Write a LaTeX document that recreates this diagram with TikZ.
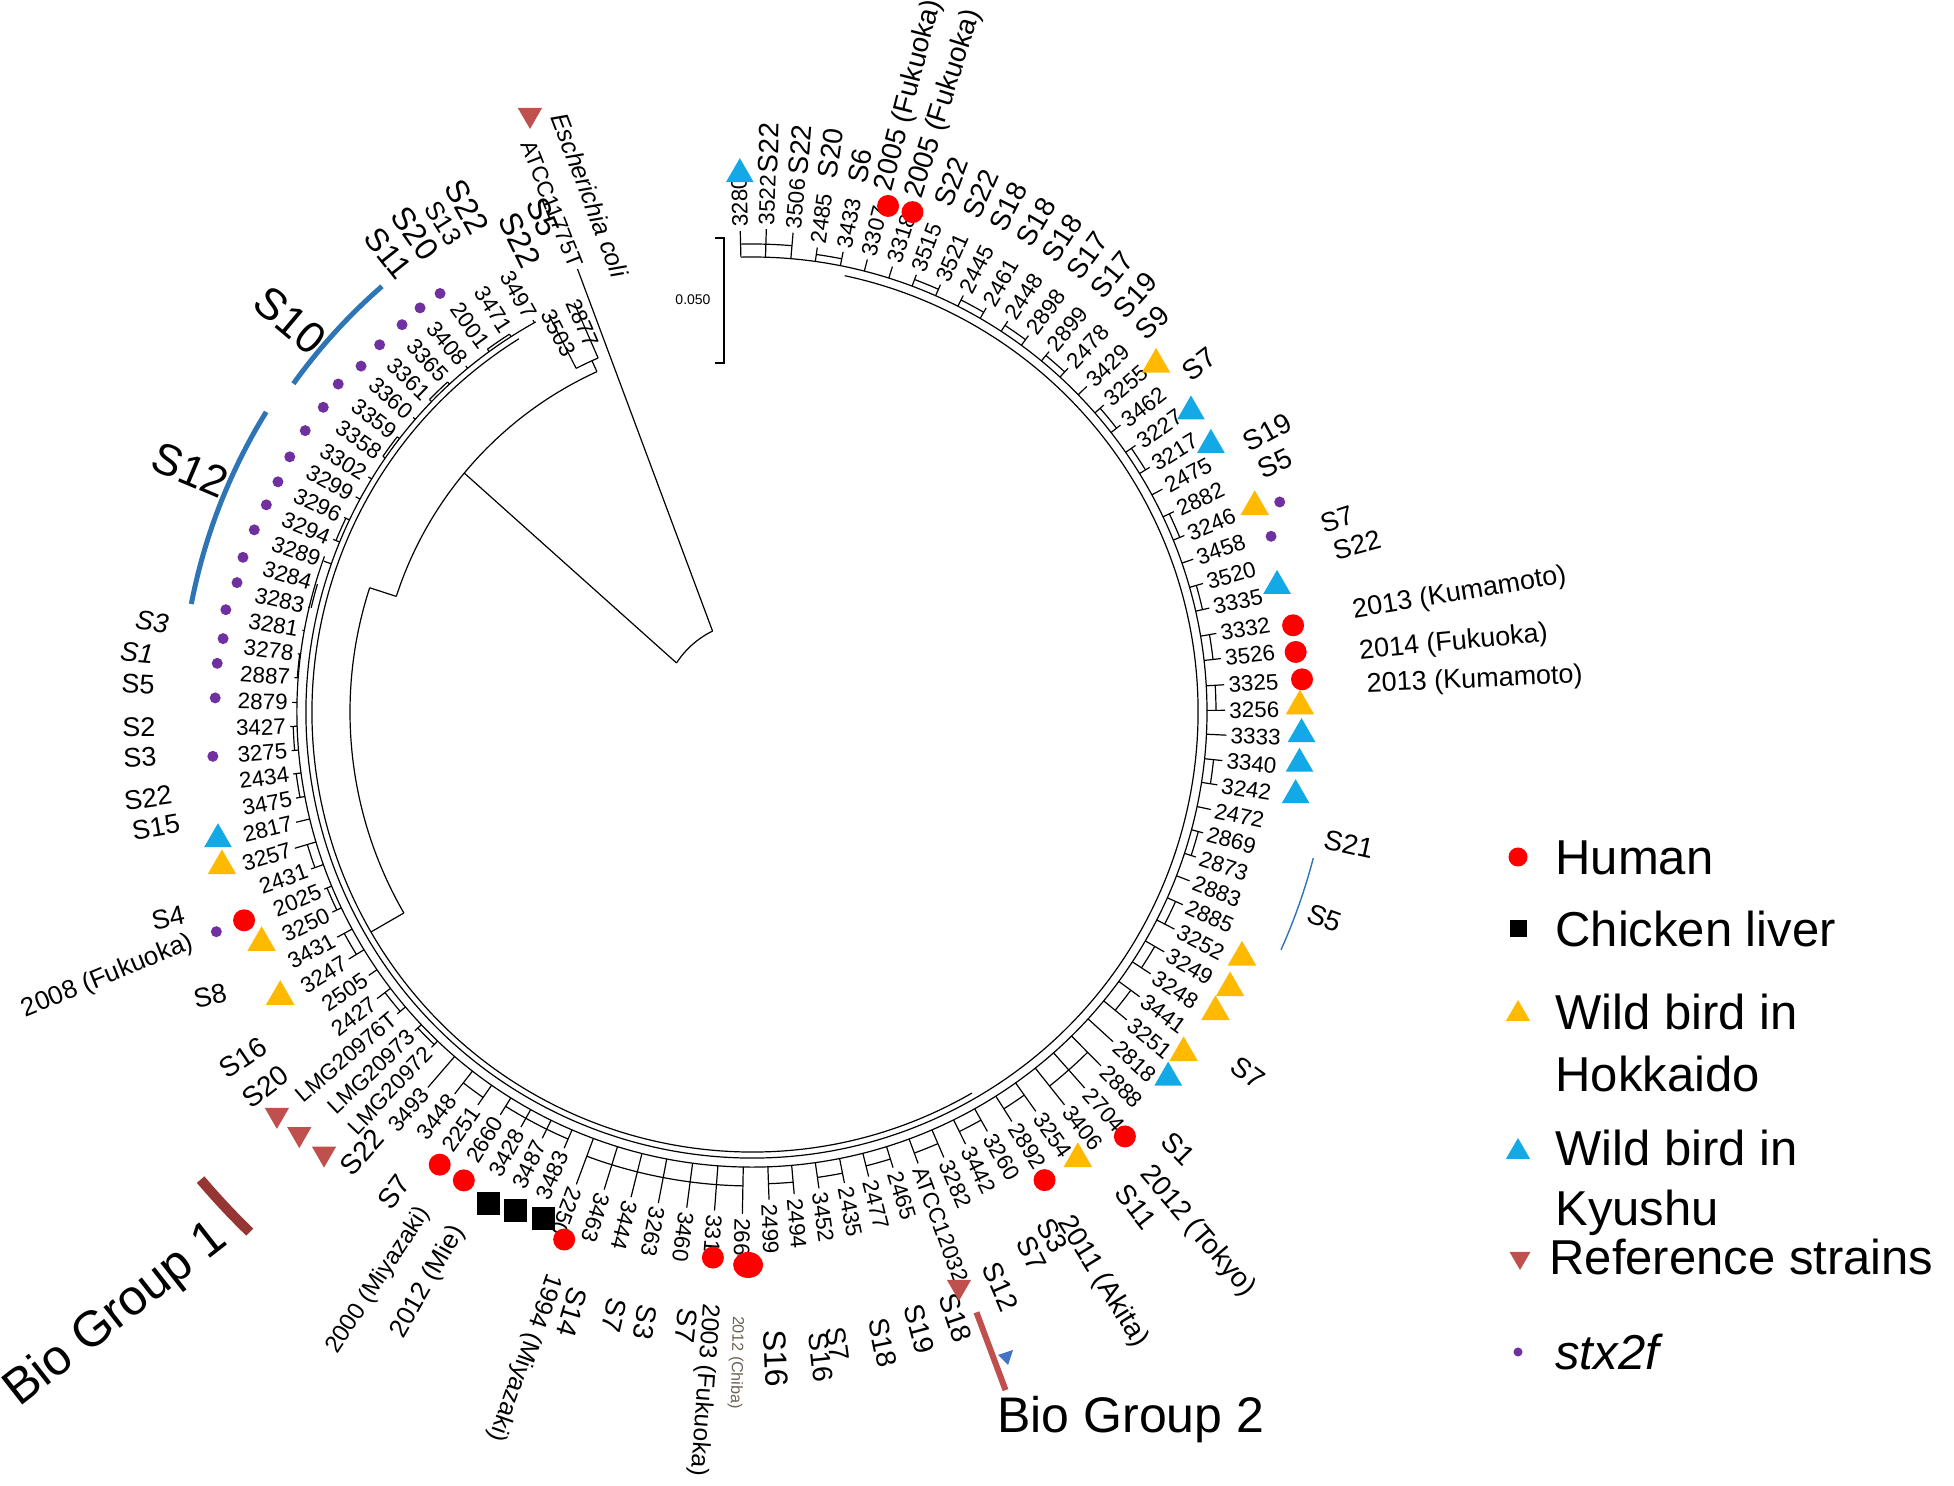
\documentclass[tikz,border=0pt]{standalone}
\usepackage{fontspec}
\setmainfont{Liberation Sans}
\usetikzlibrary{calc,shapes.geometric}
\definecolor{hred}{HTML}{FF0000}
\definecolor{borange}{HTML}{FFBA00}
\definecolor{bblue}{HTML}{12A9E6}
\definecolor{refred}{HTML}{C0504D}
\definecolor{ppurple}{HTML}{7030A0}
\definecolor{lineblue}{HTML}{2E75B6}
\definecolor{bgone}{HTML}{963634}
\definecolor{smallblue}{HTML}{4472C4}
\definecolor{chiba}{HTML}{6D6150}
\begin{document}
\begin{tikzpicture}[x=0.5pt,y=0.5pt,
  br/.style={line width=0.6pt, black},
  leaf/.style={font=\fontsize{11.2}{12}\selectfont, inner sep=0.5pt},
  sero/.style={font=\fontsize{14}{15}\selectfont, inner sep=0.5pt},
  seroR/.style={font=\fontsize{13.5}{14}\selectfont, inner sep=0.5pt},
  big/.style={font=\fontsize{22}{24}\selectfont, inner sep=0pt},
  mid/.style={font=\fontsize{16}{17}\selectfont, inner sep=0pt},
  hum/.style={circle, fill=hred, minimum size=11pt, inner sep=0pt},
  chk/.style={rectangle, fill=black, minimum size=11.5pt, inner sep=0pt},
  hok/.style={regular polygon, regular polygon sides=3, fill=borange, minimum size=16.5pt, inner sep=0pt},
  kyu/.style={regular polygon, regular polygon sides=3, fill=bblue, minimum size=16pt, inner sep=0pt},
  refs/.style={regular polygon, regular polygon sides=3, shape border rotate=180, fill=refred, minimum size=14pt, inner sep=0pt},
  stx/.style={circle, fill=ppurple, minimum size=5.5pt, inner sep=0pt},
  legtext/.style={font=\fontsize{24.5}{26}\selectfont, anchor=base west, inner sep=0pt},
  biog/.style={font=\fontsize{25}{27}\selectfont, anchor=base west, inner sep=0pt}
]
\fill[white] (0,0) rectangle (1954,1486);
\useasboundingbox (0,0) rectangle (1954,1486);
\coordinate (C) at (752,774);

% ---------- backbone rings ----------
\draw[br] ($(C)+(-200:455)$) arc[start angle=-200, end angle=91.4, radius=455];
\draw[br] ($(C)+(-241:446)$) arc[start angle=-241, end angle=78, radius=446];
\draw[br] ($(C)+(-238:440)$) arc[start angle=-238, end angle=-60, radius=440];

% ---------- inner structure ----------
\draw[br] ($(C)+(116:90)$) arc[start angle=116, end angle=147, radius=90];
\draw[br] ($(C)+(116:90)$) -- ($(C)+(111.5:476)$);
\draw[br] ($(C)+(147:90)$) -- ($(C)+(140.3:374)$);
\draw[br] ($(C)+(114.5:374)$) arc[start angle=114.5, end angle=162, radius=374];
\draw[br] ($(C)+(114.5:374)$) -- ($(C)+(114.5:386)$);
\draw[br] ($(C)+(113.5:386)$) arc[start angle=113.5, end angle=117.1, radius=386];
\draw[br] ($(C)+(113.5:386)$) -- ($(C)+(113.5:395)$);
\draw[br] ($(C)+(117.1:386)$) -- ($(C)+(117.1:396)$);
\draw[br] ($(C)+(162:374)$) -- ($(C)+(162:402)$);
\draw[br] ($(C)+(162:402)$) arc[start angle=162, end angle=210, radius=402];
\draw[br] ($(C)+(210:402)$) -- ($(C)+(210:440)$);

% ---------- brackets ----------
\foreach \aa/\ab/\rr in {91.4/85.1/468, 82.0/78.8/462, 69.4/66.2/462, 63.1/59.9/462, 56.8/53.7/462,
  50.5/47.4/462, 41.1/37.9/462, 34.8/31.6/462, 25.4/22.2/462, 15.9/12.8/462, 9.6/6.5/464,
  3.3/0.2/464, -5.9/-8.9/464, -15.0/-18.1/462, -24.1/-27.2/464, -30.2/-33.3/466, -36.3/-39.4/470,
  -45.4/-51.5/478, -54.6/-57.6/470, -60.7/-63.7/468, -66.7/-69.8/470, -72.8/-75.9/468,
  -78.9/-82.0/470, -85.0/-88.0/472, -91.1/-110.4/474, -113.3/-122.0/465, -124.9/-127.9/470,
  -133.7/-136.6/460, -139.6/-142.6/462, -148.5/-151.5/464, -154.5/-157.5/460, -160.4/-163.4/464,
  -169.3/-172.3/460, -175.2/-178.2/459, -184.3/-187.3/456, -193.3/-196.4/453, -202.4/-205.5/450,
  -214.7/-217.8/449, -224.1/-227.3/449, -233.9/-237.3/449}{
  \draw[br] ($(C)+(\aa:\rr)$) arc[start angle=\aa, end angle=\ab, radius=\rr];
}

% ---------- leaves reading outward ----------
\foreach \n/\a/\rad in {3280/91.4/484, 3522/88.3/486, 3506/85.1/484, 2485/82.0/472, 3433/78.8/472,
  3307/75.7/470, 3318/72.5/470, 3515/69.4/470, 3521/66.2/470, 2445/63.1/470, 2461/59.9/470,
  2448/56.8/470, 2898/53.7/470, 2899/50.5/470, 2478/47.4/470, 3429/44.2/470, 3255/41.1/470,
  3462/37.9/470, 3227/34.8/470, 3217/31.6/470, 2475/28.5/470, 2882/25.4/470, 3246/22.2/470,
  3458/19.1/470, 3520/15.9/472, 3335/12.8/472, 3332/9.6/474, 3526/6.5/475, 3325/3.3/476,
  3256/0.2/476, 3333/-2.8/478, 3340/-5.9/476, 3242/-8.9/474, 2472/-12.0/472, 2869/-15.0/470,
  2873/-18.1/470, 2883/-21.1/472, 2885/-24.1/475, 3252/-27.2/478, 3249/-30.2/480, 3248/-33.3/480,
  3441/-36.3/484, 3251/-39.4/488, 2818/-42.4/492, 2888/-45.4/500, 2704/-48.5/505, 3406/-51.5/505,
  3254/-54.6/493, 2892/-57.6/488, 3260/-60.7/484, 3442/-63.7/485, 3282/-66.7/488,
  ATCC12032/-69.8/484, 2465/-72.8/480, 2477/-75.9/482, 2435/-78.9/483, 3452/-82.0/484,
  2494/-85.0/487, 2499/-88.0/491, 2664/-91.1/505, 3319/-94.3/503, 3460/-97.5/503,
  3263/-100.8/503, 3444/-104.0/503, 3463/-107.2/503, 2250/-110.4/507}{
  \draw[br] ($(C)+(\a:455)$) -- ($(C)+(\a:{\rad-3})$);
  \node[leaf, rotate=\a, anchor=west] (L\n) at ($(C)+(\a:\rad)$) {\n};
}

% ---------- leaves reading inward ----------
\foreach \n/\a/\rad in {3483/-113.3/478, 3487/-116.2/478, 3428/-119.1/478, 2660/-122.0/478,
  2251/-124.9/482, 3448/-127.9/487, 3493/-130.8/499, LMG20972/-133.7/467, LMG20973/-136.6/467,
  LMG20976T/-139.6/469, 2427/-142.6/475, 2505/-145.5/468, 3247/-148.5/476, 3431/-151.5/475,
  3250/-154.5/468, 2025/-157.5/466, 2431/-160.4/471, 3257/-163.4/480, 2817/-166.4/472,
  3475/-169.3/467, 2434/-172.3/466, 3275/-175.2/465, 3427/-178.2/465, 2879/-181.2/463,
  2887/-184.3/462, 3278/-187.3/461, 3281/-190.3/460, 3283/-193.3/459, 3284/-196.4/458}{
  \draw[br] ($(C)+(\a:455)$) -- ($(C)+(\a:{\rad-3})$);
  \node[leaf, rotate=\a+180, anchor=east] (L\n) at ($(C)+(\a:\rad)$) {\n};
}
\foreach \n/\a/\rad in {3289/-199.4/457, 3294/-202.4/456, 3296/-205.5/455, 3299/-208.5/454,
  3302/-211.5/453, 3358/-214.7/452, 3359/-217.8/452, 3360/-221.0/452, 3361/-224.1/452,
  3365/-227.3/452, 3408/-230.4/452, 2001/-233.9/452, 3471/-237.3/452, 3497/-240.8/452,
  3503/117.1/399, 2877/113.5/398}{
  \draw[br] ($(C)+(\a:446)$) -- ($(C)+(\a:{\rad-3})$);
  \node[leaf, rotate=\a+180, anchor=east] (L\n) at ($(C)+(\a:\rad)$) {\n};
}
\node[leaf, rotate=-68.5, anchor=east] (LATCC11775T) at ($(C)+(111.5:478)$) {ATCC11775T};
\node[font=\fontsize{12.5}{13}\selectfont\itshape, rotate=-69, inner sep=0pt] (ecoli) at (590,1291) {Escherichia coli};

% ---------- serotype / origin labels ----------
\foreach \txt/\a/\rad [count=\i] in {S22/88.3/538, S22/85.1/538, S20/82.0/538, S6/78.8/538,
  2005 (Fukuoka)/75.7/537, 2005 (Fukuoka)/72.5/538, S22/69.4/540, S22/66.2/540, S18/63.1/540,
  S18/59.9/540, S18/56.8/540, S17/53.7/540, S17/50.5/540, S19/47.4/540, S9/44.2/540,
  S7/37.9/548, S19/28.5/560, S5/25.4/560, S21/-12.5/585, S5/-19.8/590, S7/-36/595, S1/-45.7/592,
  2012 (Tokyo)/-49.4/602, S11/-52.2/601, 2011 (Akita)/-58.4/593, S3/-60.2/585, S7/-62.7/591,
  S12/-66.6/600, S18/-71.4/613, S19/-74.8/613, S18/-78.3/618, S7/-82.3/619, S16/-83.9/623,
  S7/-96.1/599, S3/-99.9/601, S7/-102.9/600, S14/-106.7/600}{
  \node[sero, rotate=\a, anchor=west] (So\i) at ($(C)+(\a:\rad)$) {\txt};
}
\foreach \txt/\a/\rad [count=\i] in {S7/18.2/598, S22/15.4/602, 2013 (Kumamoto)/9.5/608,
  2014 (Fukuoka)/5.6/609, 2013 (Kumamoto)/2.5/614}{
  \node[seroR, rotate=\a, anchor=west] (Sr\i) at ($(C)+(\a:\rad)$) {\txt};
}
\node[font=\fontsize{16}{17}\selectfont, rotate=-87.9, anchor=west, inner sep=0.5pt] (Sbig) at ($(C)+(-87.9:617)$) {S16};
\node[font=\fontsize{12.3}{13}\selectfont, rotate=-94.1, anchor=west, inner sep=0.5pt] (Sfuk) at ($(C)+(-94.1:592)$) {2003 (Fukuoka)};
\node[font=\fontsize{12.5}{13}\selectfont, rotate=-109.4, anchor=west, inner sep=0.5pt] (Smiy) at ($(C)+(-109.4:595)$) {1994 (Miyazaki)};
\node[font=\fontsize{8}{9}\selectfont, text=chiba, rotate=-91.4, anchor=west, inner sep=0.5pt] (Schiba) at ($(C)+(-91.4:603)$) {2012 (Chiba)};

\foreach \txt/\a/\rad/\fs [count=\i] in {2012 (Mie)/-119.6/592/13, 2000 (Miyazaki)/-123.3/594/12,
  S7/-126.7/580/14, S22/-131.5/562/14, S20/-142.4/588/14, S16/-145.8/589/14,
  2008 (Fukuoka)/-157.7/604/13}{
  \node[font=\fontsize{\fs}{\fs}\selectfont, inner sep=0.5pt, rotate=\a+180, anchor=east] (Si\i) at ($(C)+(\a:\rad)$) {\txt};
}
\foreach \txt/\x/\y/\rot [count=\i] in {S8/210/490/12, S4/168/568/12, S15/156/659/10, S22/148/688/8,
  S3/140/729/3, S2/139/759/0, S5/138/802/-3}{
  \node[font=\fontsize{13.5}{14}\selectfont, inner sep=0pt, rotate=\rot] (Sl\i) at (\x,\y) {\txt};
}
\node[font=\fontsize{13.5}{14}\selectfont\itshape, inner sep=0pt, rotate=-5] (Sl8) at (137,833) {S1};
\node[font=\fontsize{13.5}{14}\selectfont\itshape, inner sep=0pt, rotate=-8] (Sl9) at (152,864) {S3};

\node[big, rotate=-40] (S10) at (290,1166) {S10};
\node[big, rotate=-23] (S12) at (190,1016) {S12};
\foreach \txt/\x/\y/\rot [count=\i] in {S11/388/1233/-51.6, S20/415/1253/-54.9, S22/467/1279/-60.6,
  S22/520/1246/-63.8, S5/543/1269/-67.1}{
  \node[mid, rotate=\rot] (St\i) at (\x,\y) {\txt};
}
\node[font=\fontsize{13}{14}\selectfont, inner sep=0pt, rotate=-57.7] (S13) at (443,1263) {S13};

% ---------- clade bars ----------
\draw[line width=2.5pt, lineblue] ($(C)+(131:564)$) arc[start angle=131, end angle=144.4, radius=564];
\draw[line width=2.5pt, lineblue] ($(C)+(148.3:571)$) arc[start angle=148.3, end angle=169.1, radius=571];
\draw[line width=0.7pt, lineblue] ($(C)+(-14.6:580)$) arc[start angle=-14.6, end angle=-24.2, radius=580];
\draw[line width=3pt, refred] ($(C)+(-69.5:641)$) -- ($(C)+(-69.5:724)$);
\draw[line width=5pt, bgone] ($(C)+(-139.7:723)$) arc[start angle=-139.7, end angle=-134, radius=723];
\fill[smallblue] (998,131) -- (1013,136) -- (1008,121) -- cycle;
\node[biog] (bg2) at (997,53) {Bio Group 2};
\node[biog, rotate=38] (bg1) at (19,78) {Bio Group 1};

% ---------- markers ----------
\foreach \a/\rad [count=\i] in {74.95/524, 72.2/525, 9.1/548, 6.3/547, 3.4/551, -48.7/565, -58/552,
  -94.1/547, -109.6/560, -121.6/550, -124.6/550, -157.7/549}{
  \node[hum] (hu\i) at ($(C)+(\a:\rad)$) {};
}
\node[ellipse, fill=hred, minimum width=15pt, minimum height=13pt, inner sep=0pt] (hu13) at ($(C)+(-90.4:553)$) {};
\foreach \a/\rad [count=\i] in {-118.2/558, -115.4/552, -112.4/548}{
  \node[chk] (ch\i) at ($(C)+(\a:\rad)$) {};
}
\foreach \a/\rad [count=\i] in {40.7/533, 22.2/543, 0.6/548, -26.6/548, -30/552, -32.9/552,
  -38.3/550, -53.9/553, -148.9/551, -154.8/542, -163.8/552}{
  \node[hok] (ho\i) at ($(C)+(\a:\rad)$) {};
}
\foreach \a/\rad [count=\i] in {91.3/538, 34.4/532, 30.2/531, 13.5/540, -2.3/550, -5.4/550,
  -8.7/550, -41.3/554, -166.6/549}{
  \node[kyu] (ky\i) at ($(C)+(\a:\rad)$) {};
}
\foreach \a/\rad [count=\i] in {-139.7/623, -137/619, -134.1/615, -70.2/611, 110.4/637}{
  \node[refs] (rf\i) at ($(C)+(\a:\rad)$) {};
}
\foreach \a/\rad [count=\i] in {21.7/568, 18.7/548, -157.7/579, 184.7/541, 178.5/537, 174.8/537,
  172.1/534, 169.0/536, 165.9/531, 163.1/532, 159.9/530, 156.9/528, 154.1/527, 151.1/528,
  147.8/528, 144.6/526, 141.6/528, 138.5/522, 135.4/523, 132.1/522, 129.4/523, 126.7/522}{
  \node[stx] (sx\i) at ($(C)+(\a:\rad)$) {};
}

% ---------- scale bar ----------
\draw[br] (715,1248) -- (724,1248) -- (724,1123) -- (715,1123);
\node[font=\fontsize{7}{8}\selectfont, inner sep=0pt] (sbl) at (693,1186) {0.050};

% ---------- legend ----------
\node[hum, minimum size=9.5pt] (lg1) at (1518,629) {};
\node[legtext] (lt1) at (1555,611) {Human};
\node[chk, minimum size=8.5pt] (lg2) at (1518,557) {};
\node[legtext] (lt2) at (1555,539) {Chicken liver};
\node[hok, minimum size=14pt] (lg3) at (1518,472) {};
\node[legtext] (lt3) at (1555,456) {Wild bird in};
\node[legtext] (lt3b) at (1555,394) {Hokkaido};
\node[kyu, minimum size=14pt] (lg4) at (1518,334) {};
\node[legtext] (lt4) at (1555,320) {Wild bird in};
\node[legtext] (lt4b) at (1555,260) {Kyushu};
\node[refs, minimum size=12pt] (lg5) at (1520,228) {};
\node[legtext] (lt5) at (1549,211) {Reference strains};
\node[stx, minimum size=4.5pt] (lg6) at (1518,134) {};
\node[legtext, font=\fontsize{24.5}{26}\selectfont\itshape] (lt6) at (1555,116) {stx2f};
\end{tikzpicture}
\end{document}
